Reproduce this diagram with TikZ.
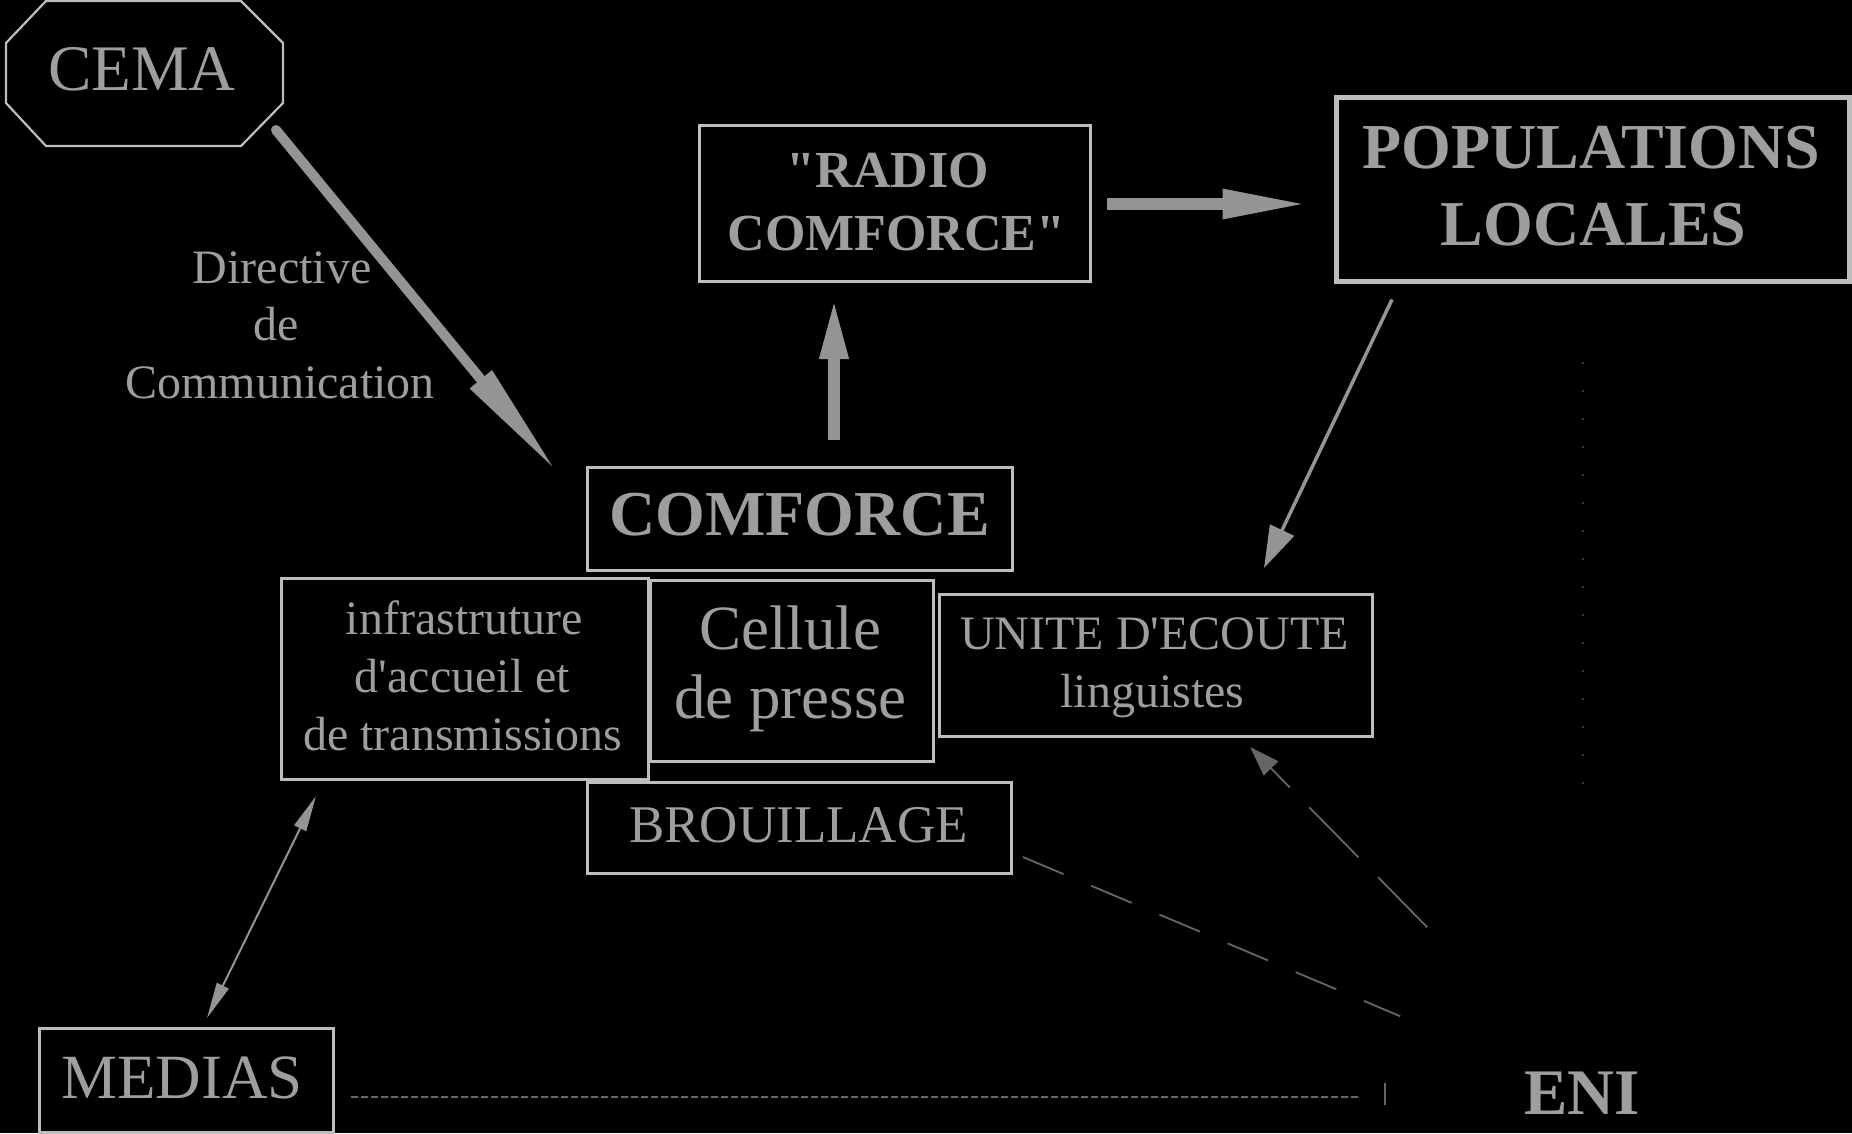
\documentclass[tikz,border=0pt]{standalone}
\usepackage{fontspec}
\setmainfont{Liberation Serif}
\usetikzlibrary{arrows.meta,calc}

\definecolor{ink}{gray}{0.62}
\definecolor{frame}{gray}{0.74}
\definecolor{shaft}{gray}{0.58}
\definecolor{dim}{gray}{0.40}
\definecolor{ghost}{gray}{0.22}

\newcommand{\fsz}[1]{\fontsize{#1}{#1}\selectfont}

\begin{document}
\begin{tikzpicture}[x=1pt,y=1pt,
  box/.style={draw=frame, line width=3pt, inner sep=0pt, outer sep=0pt},
  txt/.style={text=ink, inner sep=0pt, outer sep=0pt, anchor=base},
  heavy/.style={draw=shaft, line width=12pt},
  slim/.style={draw=shaft, line width=3.5pt},
  faint/.style={draw=dim, line width=1.8pt},
]
% black page
\fill[black] (0,0) rectangle (1852,-1133);
\useasboundingbox (0,0) rectangle (1852,-1133);

% ---- frames ----
% CEMA: octagonal frame drawn around an invisible node
\node[inner sep=0pt, outer sep=0pt, minimum width=277pt, minimum height=145pt] (cema) at (144.5,-73.5) {};
\draw[draw=frame, line width=2.2pt, line join=miter]
  ($(cema.north west)+(40,0)$) -- ($(cema.north east)+(-42,0)$)
  -- ($(cema.north east)+(0,-42)$) -- ($(cema.south east)+(0,43)$)
  -- ($(cema.south east)+(-42,0)$) -- ($(cema.south west)+(40,0)$)
  -- ($(cema.south west)+(0,43)$) -- ($(cema.north west)+(0,-42)$) -- cycle;
\node[box, minimum width=391pt, minimum height=156pt] (radio) at (894.5,-203) {};
\node[box, line width=4.5pt, minimum width=513pt, minimum height=184pt] (popul) at (1593,-189.5) {};
\node[box, minimum width=425pt, minimum height=103pt] (comforce) at (799.5,-518.5) {};
\node[box, minimum width=367pt, minimum height=201pt] (infra) at (464.5,-678.5) {};
\node[box, minimum width=283pt, minimum height=181pt] (cellule) at (791.5,-670.5) {};
\node[box, minimum width=433pt, minimum height=142pt] (unite) at (1155.5,-665) {};
\node[box, minimum width=424pt, minimum height=91pt] (brouil) at (799,-827.5) {};
\node[box, minimum width=294pt, minimum height=104pt] (medias) at (186,-1080) {};

% ---- texts ----
\node[txt, font=\fsz{65}] (cema-t) at (142,-90) {CEMA};
\node[txt, font=\fsz{48}] (dir-1) at (282,-283) {Directive};
\node[txt, font=\fsz{48}] (dir-2) at (276,-340) {de};
\node[txt, font=\fsz{48}] (dir-3) at (280,-398) {Communication};

\node[txt, font=\bfseries\fsz{52}] (radio-1) at (888,-187) {\textquotedbl RADIO};
\node[txt, font=\bfseries\fsz{52}] (radio-2) at (896.5,-250) {COMFORCE\textquotedbl};

\node[txt, font=\bfseries\fsz{64}] (popul-1) at (1591.5,-168) {POPULATIONS};
\node[txt, font=\bfseries\fsz{64}] (popul-2) at (1593.5,-245) {LOCALES};

\node[txt, font=\bfseries\fsz{64}] (comforce-t) at (799.5,-535) {COMFORCE};

\node[txt, font=\fsz{48}] (infra-1) at (464.5,-634) {infrastruture};
\node[txt, font=\fsz{48}] (infra-2) at (462.5,-692) {d\textquotesingle accueil et};
\node[txt, font=\fsz{48}] (infra-3) at (462.5,-750) {de transmissions};

\node[txt, font=\fsz{63}] (cell-1) at (790,-649) {Cellule};
\node[txt, font=\fsz{63}] (cell-2) at (790.5,-718) {de presse};

\node[txt, font=\fsz{48}] (unite-1) at (1154.5,-649) {UNITE D\textquotesingle ECOUTE};
\node[txt, font=\fsz{48}] (unite-2) at (1152.5,-707) {linguistes};

\node[txt, font=\fsz{53}] (brouil-t) at (798.5,-842) {BROUILLAGE};
\node[txt, font=\fsz{63}] (medias-t) at (182,-1098) {MEDIAS};
\node[txt, font=\bfseries\fsz{65}] (eni) at (1582,-1114) {ENI};

% ---- connectors ----
% directive from CEMA
\draw[heavy, line width=10pt, line cap=round, -{Triangle[length=120pt,width=26pt]}]
  ($(cema.center)+(131.5,-56.5)$) -- ($(comforce.north west)+(-30,-5)$);
% COMFORCE feeds the radio
\draw[heavy, -{Triangle[length=62pt,width=26pt]}]
  ($(comforce.north)+(34.5,27)$) -- ($(radio.south)+(-60.5,-16)$);
% radio reaches the local populations
\draw[heavy, -{Triangle[length=87pt,width=27pt]}]
  ($(radio.east)+(17,-1)$) -- ($(popul.west)+(-27,-14.5)$);
% populations heard by the listening unit
\draw[slim, -{Triangle[length=42pt,width=26pt]}]
  ($(popul.south)+(-201,-18)$) -- ($(unite.north)+(108.5,26)$);
% media exchanges
\draw[draw=shaft, line width=2pt, {Triangle[length=36pt,width=13pt]}-{Triangle[length=36pt,width=13pt]}]
  ($(medias.north)+(21,10)$) -- ($(infra.south)+(-148.5,-17)$);
% jamming towards ENI
\draw[faint, dash pattern=on 44pt off 30pt]
  ($(brouil.south east)+(12,16)$) -- ($(eni.west)+(-124,76.5)$);
% ENI listened to
\draw[faint, dash pattern=on 70pt off 28pt, -{Triangle[length=30pt,width=20pt]}]
  ($(eni.west)+(-97,165.5)$) -- ($(unite.south)+(94.5,-11)$);
% media to ENI
\draw[faint, line width=2pt, dash pattern=on 7pt off 3pt]
  ($(medias.east)+(18,-17)$) -- ($(eni.west)+(-166,-4.5)$);
\draw[faint, line width=1.5pt] ($(eni.west)+(-139,9.5)$) -- ($(eni.west)+(-139,-12.5)$);
% ENI towards the populations
\draw[draw=ghost, line width=1.5pt, dash pattern=on 2pt off 26pt]
  ($(eni.north)+(1,287)$) -- ($(popul.south)+(-10,-78)$);
\end{tikzpicture}
\end{document}
